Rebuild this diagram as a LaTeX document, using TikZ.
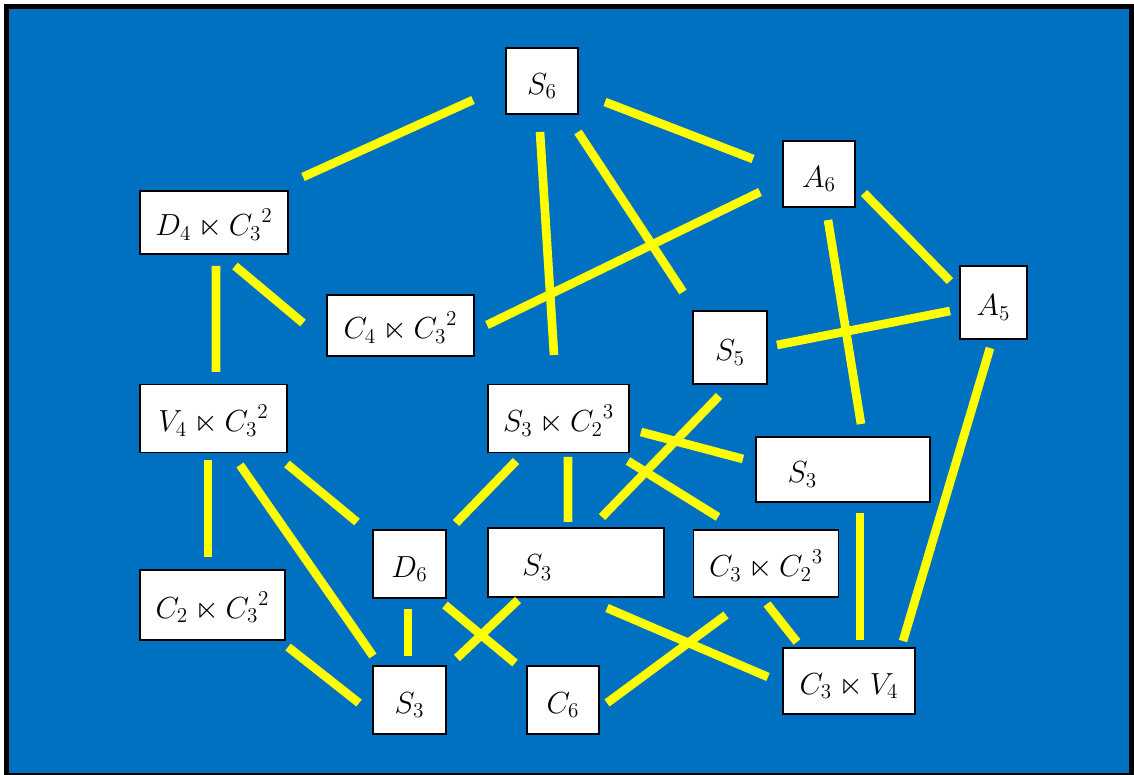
\documentclass[tikz,border=0pt]{standalone}
\usepackage{amsmath,amssymb}
\definecolor{bluebg}{RGB}{0,112,192}
\definecolor{yellowline}{RGB}{255,255,0}
\newcommand{\pxu}{0.567pt}
\begin{document}
\begin{tikzpicture}[x=0.567pt,y=-0.567pt,
  grp/.style={draw=black, line width=0.8pt, fill=white, inner sep=0pt,
    text height=14.8pt, text depth=0pt,
    font=\fontsize{17.5}{20}\selectfont},
  link/.style={draw=yellowline, line width=4.9pt}]
\useasboundingbox (0,0) rectangle (1134,775);
\fill[black] (4,4) rectangle (1134,775);
\fill[bluebg] (9,9) rectangle (1129,773);
% boxes
\node[grp, minimum width=72*\pxu, minimum height=66*\pxu] (s6) at (542,81) {$S_6$};
\node[grp, minimum width=72*\pxu, minimum height=66*\pxu] (a6) at (819,174) {$A_6$};
\node[grp, minimum width=67*\pxu, minimum height=73*\pxu] (a5) at (993.5,302.5) {$A_5$};
\node[grp, minimum width=148*\pxu, minimum height=63*\pxu] (d4) at (214,222.5) {$D_4\ltimes {C_3}^2$};
\node[grp, minimum width=147*\pxu, minimum height=61*\pxu] (c4) at (400.5,325.5) {$C_4\ltimes {C_3}^2$};
\node[grp, minimum width=74*\pxu, minimum height=73*\pxu] (s5) at (730,347.5) {$S_5$};
\node[grp, minimum width=147*\pxu, minimum height=68*\pxu] (v4) at (213.5,418.5) {$V_4\ltimes {C_3}^2$};
\node[grp, minimum width=141*\pxu, minimum height=68*\pxu] (s3c2) at (558.5,418.5) {$S_3\ltimes {C_2}^3$};
\node[grp, minimum width=174*\pxu, minimum height=65*\pxu] (s3r) at (843,469.5) {$S_3$\hspace*{46pt}};
\node[grp, minimum width=73*\pxu, minimum height=68*\pxu] (d6) at (409.5,564) {$D_6$};
\node[grp, minimum width=176*\pxu, minimum height=69*\pxu] (s3m) at (576,562.5) {$S_3$\hspace*{44pt}};
\node[grp, minimum width=145*\pxu, minimum height=67*\pxu] (c3c2) at (766,563.5) {$C_3\ltimes {C_2}^3$};
\node[grp, minimum width=145*\pxu, minimum height=70*\pxu] (c2) at (212.5,605) {$C_2\ltimes {C_3}^2$};
\node[grp, minimum width=73*\pxu, minimum height=68*\pxu] (s3b) at (409.5,700) {$S_3$};
\node[grp, minimum width=72*\pxu, minimum height=68*\pxu] (c6) at (563,700) {$C_6$};
\node[grp, minimum width=132*\pxu, minimum height=66*\pxu] (c3v4) at (849,681) {$C_3\ltimes V_4$};
% connectors
\draw[link] ([shift={(-69,19)}]s6.center) -- ([shift={(89,-45.5)}]d4.center);
\draw[link] ([shift={(63,21)}]s6.center) -- ([shift={(-66,-15)}]a6.center);
\draw[link] ([shift={(-2,51)}]s6.center) -- ([shift={(-4.5,-63.5)}]s3c2.center);
\draw[link] ([shift={(36,51)}]s6.center) -- ([shift={(-47,-55.5)}]s5.center);
\draw[link] ([shift={(-59,18)}]a6.center) -- ([shift={(86.5,-0.5)}]c4.center);
\draw[link] ([shift={(45,19)}]a6.center) -- ([shift={(-43.5,-21.5)}]a5.center);
\draw[link] ([shift={(9,46)}]a6.center) -- ([shift={(18,-45.5)}]s3r.center);
\draw[link] ([shift={(-43.5,8.5)}]a5.center) -- ([shift={(47,-2.5)}]s5.center);
\draw[link] ([shift={(-3.5,45.5)}]a5.center) -- ([shift={(54,-40)}]c3v4.center);
\draw[link] ([shift={(2,43.5)}]d4.center) -- ([shift={(2.5,-46.5)}]v4.center);
\draw[link] ([shift={(21,43.5)}]d4.center) -- ([shift={(-97.5,-2.5)}]c4.center);
\draw[link] ([shift={(-5.5,41.5)}]v4.center) -- ([shift={(-4.5,-48)}]c2.center);
\draw[link] ([shift={(26.5,46.5)}]v4.center) -- ([shift={(-36.5,-44)}]s3b.center);
\draw[link] ([shift={(73.5,45.5)}]v4.center) -- ([shift={(-52.5,-42)}]d6.center);
\draw[link] ([shift={(75.5,42)}]c2.center) -- ([shift={(-50.5,3)}]s3b.center);
\draw[link] ([shift={(-1.5,45)}]d6.center) -- ([shift={(-1.5,-44)}]s3b.center);
\draw[link] ([shift={(-42.5,42.5)}]s3c2.center) -- ([shift={(46.5,-41)}]d6.center);
\draw[link] ([shift={(9.5,38.5)}]s3c2.center) -- ([shift={(-8,-40.5)}]s3m.center);
\draw[link] ([shift={(-11,48.5)}]s5.center) -- ([shift={(26,-45.5)}]s3m.center);
\draw[link] ([shift={(82.5,13.5)}]s3c2.center) -- ([shift={(-100,-10.5)}]s3r.center);
\draw[link] ([shift={(69.5,42.5)}]s3c2.center) -- ([shift={(-48,-46.5)}]c3c2.center);
\draw[link] ([shift={(17,43.5)}]s3r.center) -- ([shift={(11,-41)}]c3v4.center);
\draw[link] ([shift={(35.5,41)}]d6.center) -- ([shift={(-48,-37)}]c6.center);
\draw[link] ([shift={(-58,37.5)}]s3m.center) -- ([shift={(47.5,-42)}]s3b.center);
\draw[link] ([shift={(31,45.5)}]s3m.center) -- ([shift={(-81,-4)}]c3v4.center);
\draw[link] ([shift={(-40,51.5)}]c3c2.center) -- ([shift={(44,3)}]c6.center);
\draw[link] ([shift={(1,40.5)}]c3c2.center) -- ([shift={(-52,-39)}]c3v4.center);
\end{tikzpicture}
\end{document}
